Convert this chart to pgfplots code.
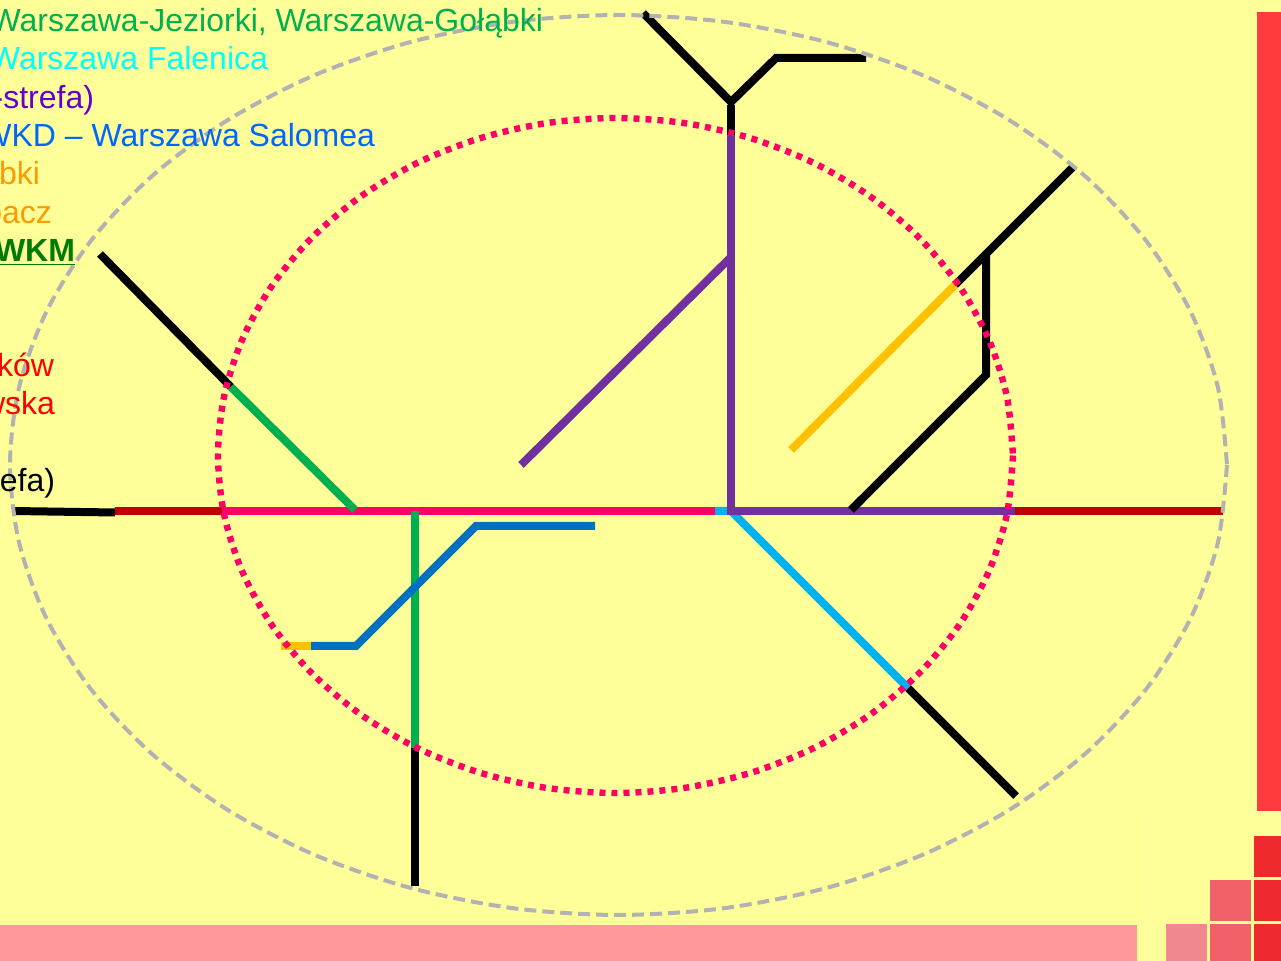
\documentclass[border=0pt]{standalone}
\usepackage{pgfplots}
\pgfplotsset{compat=1.18}
\usepackage{fontspec}
\setmainfont{Liberation Sans}

\definecolor{bg}{HTML}{FFFF99}
\definecolor{txgreen}{HTML}{00B050}
\definecolor{txcyan}{HTML}{00FFFF}
\definecolor{txpurple}{HTML}{6600CC}
\definecolor{txblue}{HTML}{0066FF}
\definecolor{txorange}{HTML}{FF9900}
\definecolor{txwkm}{HTML}{007A00}
\definecolor{txred}{HTML}{FF0000}
\definecolor{pink}{HTML}{FF0066}
\definecolor{darkred}{HTML}{C00000}
\definecolor{lpurple}{HTML}{7030A0}
\definecolor{lcyan}{HTML}{00B0F0}
\definecolor{lblue}{HTML}{0070C0}
\definecolor{amber}{HTML}{FFC000}
\definecolor{grayd}{HTML}{B2B2B2}
\definecolor{redbar}{HTML}{FF3B3F}
\definecolor{pinkbar}{HTML}{FF9999}
\definecolor{sqdark}{HTML}{EE2A2E}
\definecolor{sqmid}{HTML}{F06068}
\definecolor{sqlight}{HTML}{F08890}
\definecolor{frame}{HTML}{FFFFA8}

\tikzset{lbl/.style={anchor=base east,inner sep=0pt,outer sep=0pt,font=\fontsize{16}{19}\selectfont}}

\begin{document}
\begin{tikzpicture}
\useasboundingbox (0,0) rectangle (640.5pt,480.5pt);
\clip (0,0) rectangle (640.5pt,480.5pt);
\begin{axis}[
  at={(0,0)}, anchor=south west,
  scale only axis, width=640.5pt, height=480.5pt,
  xmin=0, xmax=1281, ymin=0, ymax=961, y dir=reverse,
  hide axis,
]
% background and slide decoration
\addplot[fill=bg,draw=none] coordinates {(0,0) (1281,0) (1281,961) (0,961)} --cycle;
\addplot[fill=redbar,draw=none] coordinates {(1257,12) (1281,12) (1281,811) (1257,811)} --cycle;
\addplot[fill=pinkbar,draw=none] coordinates {(0,925) (1137,925) (1137,961) (0,961)} --cycle;
\addplot[draw=frame,line width=0.5pt] coordinates {(1150,961) (1150,813) (1281,813)};
\addplot[fill=sqdark,draw=none] coordinates {(1254,836) (1281,836) (1281,877) (1254,877)} --cycle;
\addplot[fill=sqmid,draw=none] coordinates {(1210,880) (1251,880) (1251,921) (1210,921)} --cycle;
\addplot[fill=sqdark,draw=none] coordinates {(1254,880) (1281,880) (1281,921) (1254,921)} --cycle;
\addplot[fill=sqlight,draw=none] coordinates {(1166,924) (1207,924) (1207,961) (1166,961)} --cycle;
\addplot[fill=sqmid,draw=none] coordinates {(1210,924) (1251,924) (1251,961) (1210,961)} --cycle;
\addplot[fill=sqdark,draw=none] coordinates {(1254,924) (1281,924) (1281,961) (1254,961)} --cycle;

\pgfplotsset{every axis plot/.append style={line width=4pt}}
% black outer branches
\addplot[black] coordinates {(643,13) (731,102) (776,58) (866,58)};
\addplot[black] coordinates {(731,105) (731,135)};
\addplot[black] coordinates {(1074,166) (955,285)};
\addplot[black] coordinates {(986,255) (986,375) (851,510)};
\addplot[black] coordinates {(908,688) (1016,796)};
\addplot[black] coordinates {(231,387) (100,254)};
\addplot[black] coordinates {(415,748) (415,886)};
\addplot[black] coordinates {(13,511) (115,512.5)};
% east-west line
\addplot[darkred] coordinates {(115,511) (222,511)};
\addplot[pink] coordinates {(222,511) (715,511)};
\addplot[darkred] coordinates {(1015,511) (1223,511)};
% inner lines
\addplot[lcyan] coordinates {(715,511) (731,511) (908,688)};
\addplot[lpurple] coordinates {(731,135) (731,511) (1015,511)};
\addplot[lpurple] coordinates {(731,257) (521,465)};
\addplot[black] coordinates {(862,499) (851,510)};
\addplot[amber] coordinates {(955,285) (791,450)};
\addplot[txgreen] coordinates {(355,510) (231,387)};
\addplot[txgreen] coordinates {(415,511) (415,748)};
\addplot[amber] coordinates {(281,646) (311,646)};
\addplot[lblue] coordinates {(311,646) (356,646) (476,526) (595,526)};

% inner zone, dotted
\addplot[pink,line width=3.2pt,smooth,dash pattern=on 3pt off 3pt] coordinates {
(1013,455.5) (1007,514.1) (989,570.9) (959.7,624.3) (920,672.4) (871,714)
(814.3,747.8) (751.4,772.6) (684.5,787.9) (615.5,793) (546.5,787.9) (479.6,772.6)
(416.7,747.8) (360,714) (311,672.4) (271.3,624.3) (242,570.9) (224,514.1)
(218,455.5) (224,396.9) (242,340.1) (271.3,286.7) (311,238.6) (360,197)
(416.7,163.2) (479.6,138.4) (546.5,123.1) (615.5,118) (684.5,123.1) (751.4,138.4)
(814.3,163.2) (871,197) (920,238.6) (959.7,286.7) (989,340.1) (1007,396.9) (1013,455.5)};
% outer zone, dashed
\addplot[grayd,line width=2pt,smooth,dash pattern=on 6pt off 3pt] coordinates {
(1227,465) (1217.8,543.1) (1190.3,618.9) (1145.5,690) (1084.6,754.3) (1009.6,809.7)
(922.8,854.7) (826.6,887.9) (724.1,908.2) (618.5,915) (512.9,908.2) (410.4,887.9)
(314.2,854.7) (227.4,809.7) (152.4,754.3) (91.5,690) (46.7,618.9) (19.2,543.1)
(10,465) (19.2,386.9) (46.7,311.1) (91.5,240) (152.4,175.7) (227.4,120.3)
(314.2,75.3) (410.4,42.1) (512.9,21.8) (618.5,15) (724.1,21.8) (826.6,42.1)
(922.8,75.3) (1009.6,120.3) (1084.6,175.7) (1145.5,240) (1190.3,311.1) (1217.8,386.9) (1227,465)};

% legend text, cut by the left edge as in the slide
\node[lbl,text=txgreen] at (axis cs:543,32) {Warszawa-Jeziorki, Warszawa-Gołąbki};
\node[lbl,text=txcyan] at (axis cs:268,70) {Warszawa Falenica};
\node[lbl,text=txpurple] at (axis cs:94,108.5) {-strefa)};
\node[lbl,text=txblue] at (axis cs:375,147) {WKD – Warszawa Salomea};
\node[lbl,text=txorange] at (axis cs:40,185) {bki};
\node[lbl,text=txorange] at (axis cs:52,224) {pacz};
\node[lbl,text=txwkm] at (axis cs:75,262) {\underline{\textbf{WKM}}};
\node[lbl,text=txred] at (axis cs:54,377) {ków};
\node[lbl,text=txred] at (axis cs:55,415) {wska};
\node[lbl,text=black] at (axis cs:55,492) {efa)};
\end{axis}
\end{tikzpicture}
\end{document}
